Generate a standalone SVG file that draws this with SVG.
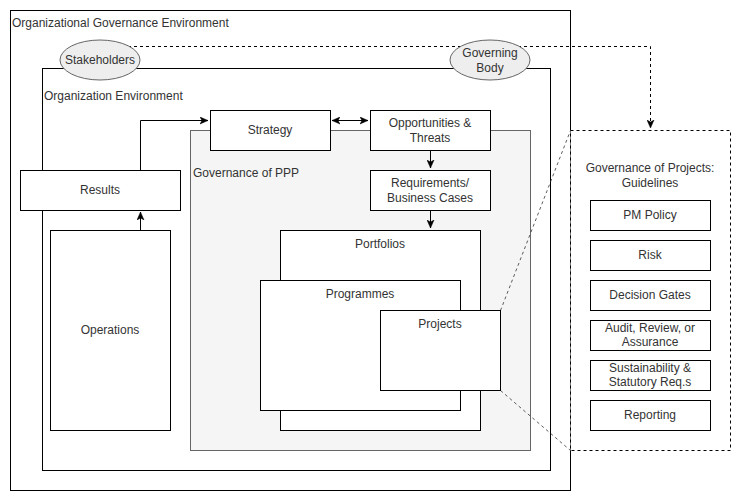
<svg xmlns="http://www.w3.org/2000/svg" width="741" height="501" viewBox="0 0 741 501">
<style>
.box{fill:#fff;stroke:#000;stroke-width:1}
.ell{fill:#eeeeee;stroke:#666;stroke-width:1}
.ppp{fill:#f5f5f5;stroke:#666;stroke-width:1}
.dash{fill:none;stroke:#000;stroke-width:1;stroke-dasharray:3 3}
.ln{fill:none;stroke:#000;stroke-width:1}
text{font-family:"Liberation Sans",Arial,Helvetica,sans-serif;font-size:12px;fill:#333}
.c{text-anchor:middle}
</style>
<defs>
<marker id="arr" viewBox="0 0 8 8" refX="8" refY="4" markerWidth="8" markerHeight="8" markerUnits="userSpaceOnUse" orient="auto-start-reverse">
<path d="M0,0.5 L8,4 L0,7.5 L2,4 z" fill="#000" stroke="#000" stroke-width="0.5"/>
</marker>
</defs>
<rect width="741" height="501" fill="#fff"/>
<g id="org-governance-env">
<rect class="box" x="10.5" y="10.5" width="560" height="480"/>
<text x="12" y="27">Organizational Governance Environment</text>
</g>
<g id="org-env">
<rect class="box" x="42.5" y="68.5" width="508" height="402"/>
<text x="44" y="100">Organization Environment</text>
</g>
<g id="governance-ppp">
<rect class="ppp" x="190.5" y="130.5" width="340" height="320"/>
<text x="193" y="177">Governance of PPP</text>
</g>
<g id="guidelines">
<rect class="dash" x="570.5" y="130.5" width="160" height="320" style="fill:#fff"/>
<text class="c" x="650" y="172">Governance of Projects:</text>
<text class="c" x="650" y="187">Guidelines</text>
</g>
<g id="connectors">
<path class="dash" d="M128,46.5 H650.5 V128" marker-end="url(#arr)"/>
<path class="ln" d="M140.5,170 V120.5 H208" marker-end="url(#arr)"/>
<path class="ln" d="M140.5,230 V212" marker-end="url(#arr)"/>
<path class="ln" d="M332,120.5 H368" marker-start="url(#arr)" marker-end="url(#arr)"/>
<path class="ln" d="M430.5,150 V168" marker-end="url(#arr)"/>
<path class="ln" d="M430.5,210 V228" marker-end="url(#arr)"/>
<path class="dash" d="M500.5,310.5 L570.5,130.5" style="stroke-width:0.8;stroke:#333"/>
<path class="dash" d="M500.5,390.5 L570.5,450.5" style="stroke-width:0.8;stroke:#333"/>
</g>
<g id="stakeholders">
<ellipse class="ell" cx="100" cy="60" rx="40" ry="20"/>
<text class="c" x="100" y="64">Stakeholders</text>
</g>
<g id="governing-body">
<ellipse class="ell" cx="490" cy="60" rx="40" ry="20"/>
<text class="c" x="490" y="57">Governing</text>
<text class="c" x="490" y="72">Body</text>
</g>
<g id="results">
<rect class="box" x="20.5" y="170.5" width="160" height="40"/>
<text class="c" x="100" y="194">Results</text>
</g>
<g id="operations">
<rect class="box" x="50.5" y="230.5" width="120" height="200"/>
<text class="c" x="110" y="334">Operations</text>
</g>
<g id="strategy">
<rect class="box" x="210.5" y="110.5" width="120" height="40"/>
<text class="c" x="270" y="134">Strategy</text>
</g>
<g id="opportunities">
<rect class="box" x="370.5" y="110.5" width="120" height="40"/>
<text class="c" x="430" y="127">Opportunities &amp;</text>
<text class="c" x="430" y="142">Threats</text>
</g>
<g id="requirements">
<rect class="box" x="370.5" y="170.5" width="120" height="40"/>
<text class="c" x="430" y="187">Requirements/</text>
<text class="c" x="430" y="202">Business Cases</text>
</g>
<g id="portfolios">
<rect class="box" x="280.5" y="230.5" width="200" height="200"/>
<text class="c" x="380" y="248">Portfolios</text>
</g>
<g id="programmes">
<rect class="box" x="260.5" y="280.5" width="200" height="130"/>
<text class="c" x="360" y="298">Programmes</text>
</g>
<g id="projects">
<rect class="box" x="380.5" y="310.5" width="120" height="80"/>
<text class="c" x="440" y="328">Projects</text>
</g>
<g id="pm-policy">
<rect class="box" x="590.5" y="200.5" width="120" height="30"/>
<text class="c" x="650" y="219">PM Policy</text>
</g>
<g id="risk">
<rect class="box" x="590.5" y="240.5" width="120" height="30"/>
<text class="c" x="650" y="259">Risk</text>
</g>
<g id="decision-gates">
<rect class="box" x="590.5" y="280.5" width="120" height="30"/>
<text class="c" x="650" y="299">Decision Gates</text>
</g>
<g id="audit">
<rect class="box" x="590.5" y="320.5" width="120" height="30"/>
<text class="c" x="650" y="332">Audit, Review, or</text>
<text class="c" x="650" y="346">Assurance</text>
</g>
<g id="sustainability">
<rect class="box" x="590.5" y="360.5" width="120" height="30"/>
<text class="c" x="650" y="372">Sustainability &amp;</text>
<text class="c" x="650" y="386">Statutory Req.s</text>
</g>
<g id="reporting">
<rect class="box" x="590.5" y="400.5" width="120" height="30"/>
<text class="c" x="650" y="419">Reporting</text>
</g>
</svg>
